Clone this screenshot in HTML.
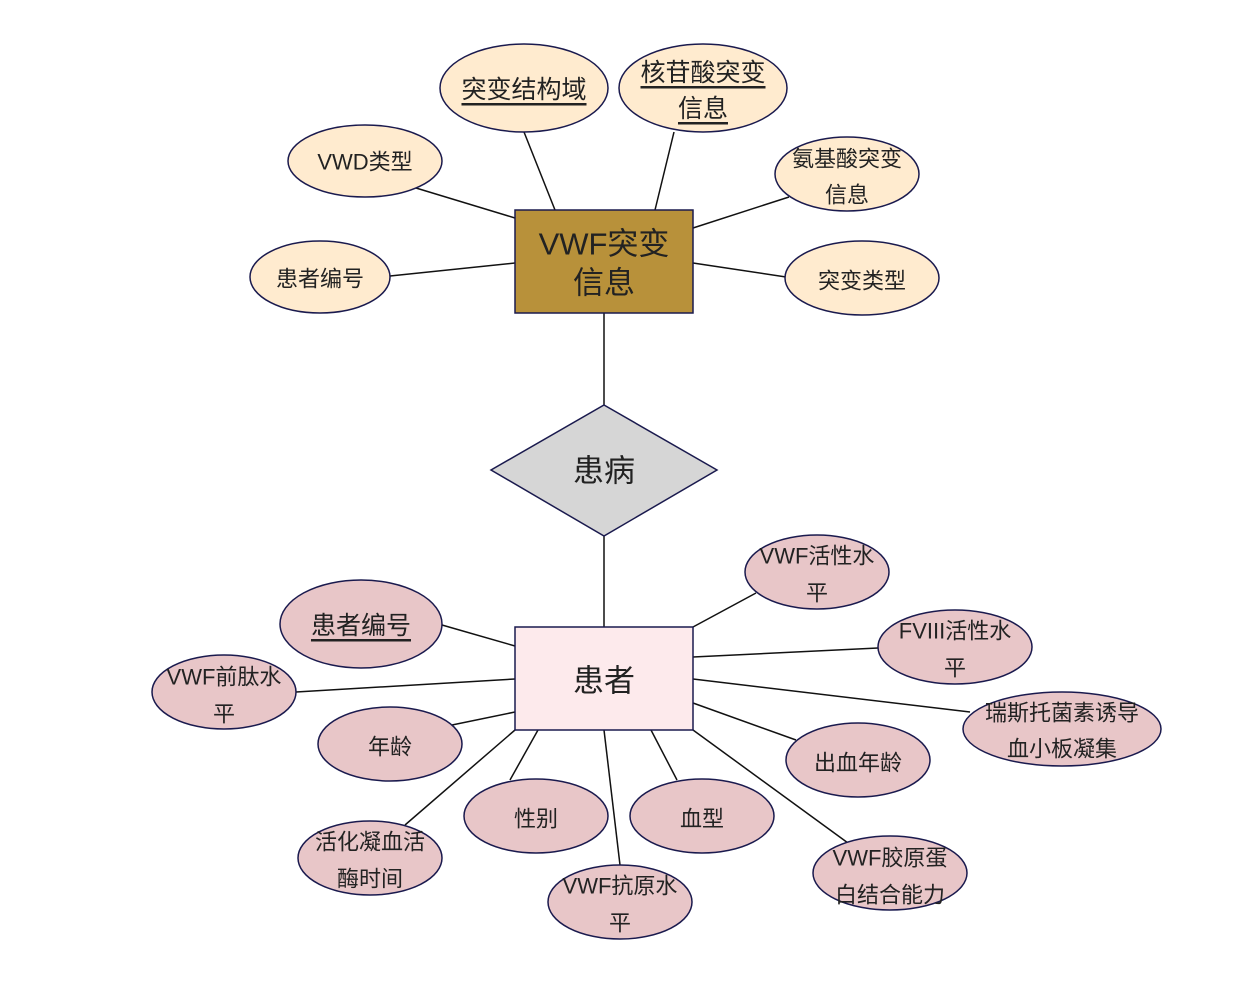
<!DOCTYPE html>
<html><head><meta charset="utf-8"><style>
html,body{margin:0;padding:0;background:#fff;}
svg text{font-family:"Liberation Sans","Noto Sans CJK SC",sans-serif;fill:#222;text-anchor:middle;dominant-baseline:central;}
</style></head><body>
<svg width="1240" height="997" viewBox="0 0 1240 997" xmlns="http://www.w3.org/2000/svg">
<g stroke="#111" stroke-width="1.5">
<line x1="555" y1="210" x2="524" y2="132"/>
<line x1="655" y1="210" x2="674" y2="132"/>
<line x1="515" y1="218" x2="416" y2="188"/>
<line x1="693" y1="228" x2="789" y2="197"/>
<line x1="515" y1="263" x2="390" y2="276"/>
<line x1="693" y1="263" x2="786" y2="277"/>
<line x1="604" y1="313" x2="604" y2="405"/>
<line x1="604" y1="536" x2="604" y2="627"/>
<line x1="693" y1="627" x2="756" y2="593"/>
<line x1="515" y1="646" x2="442" y2="625"/>
<line x1="693" y1="657" x2="878" y2="648"/>
<line x1="515" y1="679" x2="296" y2="692"/>
<line x1="693" y1="679" x2="970" y2="712"/>
<line x1="515" y1="712" x2="452" y2="725"/>
<line x1="693" y1="703" x2="796" y2="740"/>
<line x1="538" y1="730" x2="510" y2="780"/>
<line x1="651" y1="730" x2="677" y2="780"/>
<line x1="515" y1="730" x2="405" y2="825"/>
<line x1="693" y1="730" x2="848" y2="843"/>
<line x1="604" y1="730" x2="620" y2="865"/>
</g>
<g stroke="#1a1a4e" stroke-width="1.5" fill="#ffebcf">
<ellipse cx="524" cy="88" rx="84" ry="44"/>
<ellipse cx="703" cy="88" rx="84" ry="44"/>
<ellipse cx="365" cy="161" rx="77" ry="36"/>
<ellipse cx="847" cy="174" rx="72" ry="37"/>
<ellipse cx="320" cy="277" rx="70" ry="36"/>
<ellipse cx="862" cy="278" rx="77" ry="37"/>
</g>
<rect x="515" y="210" width="178" height="103" fill="#b8913a" stroke="#1a1a4e" stroke-width="1.5"/>
<polygon points="604,405 717,470 604,536 491,470" fill="#d6d6d6" stroke="#1a1a4e" stroke-width="1.5"/>
<rect x="515" y="627" width="178" height="103" fill="#fdeaec" stroke="#1a1a4e" stroke-width="1.5"/>
<g stroke="#1a1a4e" stroke-width="1.5" fill="#e8c6c8">
<ellipse cx="817" cy="572" rx="72" ry="37"/>
<ellipse cx="361" cy="624" rx="81" ry="44"/>
<ellipse cx="955" cy="647" rx="77" ry="37"/>
<ellipse cx="224" cy="692" rx="72" ry="37"/>
<ellipse cx="1062" cy="729" rx="99" ry="37"/>
<ellipse cx="390" cy="744" rx="72" ry="37"/>
<ellipse cx="858" cy="760" rx="72" ry="37"/>
<ellipse cx="536" cy="816" rx="72" ry="37"/>
<ellipse cx="702" cy="816" rx="72" ry="37"/>
<ellipse cx="370" cy="858" rx="72" ry="37"/>
<ellipse cx="890" cy="873" rx="77" ry="37"/>
<ellipse cx="620" cy="902" rx="72" ry="37"/>
</g>
<g font-size="25">
<text x="524" y="90" text-decoration="underline">突变结构域</text>
<text x="703" y="73" text-decoration="underline">核苷酸突变</text>
<text x="703" y="109" text-decoration="underline">信息</text>
<text x="361" y="626" text-decoration="underline">患者编号</text>
</g>
<g font-size="22">
<text x="365" y="162">VWD类型</text>
<text x="847" y="159">氨基酸突变</text>
<text x="847" y="195">信息</text>
<text x="320" y="279">患者编号</text>
<text x="862" y="281">突变类型</text>
<text x="817" y="556">VWF活性水</text>
<text x="817" y="593">平</text>
<text x="955" y="631">FVIII活性水</text>
<text x="955" y="668">平</text>
<text x="224" y="677">VWF前肽水</text>
<text x="224" y="714">平</text>
<text x="1062" y="713">瑞斯托菌素诱导</text>
<text x="1062" y="749">血小板凝集</text>
<text x="390" y="747">年龄</text>
<text x="858" y="763">出血年龄</text>
<text x="536" y="819">性别</text>
<text x="702" y="819">血型</text>
<text x="370" y="842">活化凝血活</text>
<text x="370" y="879">酶时间</text>
<text x="890" y="858">VWF胶原蛋</text>
<text x="890" y="895">白结合能力</text>
<text x="620" y="886">VWF抗原水</text>
<text x="620" y="923">平</text>
</g>
<g font-size="31">
<text x="604" y="244">VWF突变</text>
<text x="604" y="283">信息</text>
<text x="604" y="471">患病</text>
<text x="604" y="681">患者</text>
</g>
</svg>
</body></html>
